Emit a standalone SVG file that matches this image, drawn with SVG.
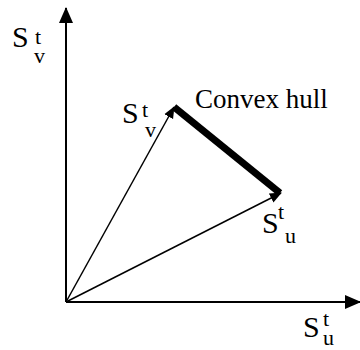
<svg xmlns="http://www.w3.org/2000/svg" width="360" height="350" viewBox="0 0 360 350" font-family="Liberation Serif, Times New Roman, serif">
<style>
.ax{stroke:#000;stroke-width:2;fill:none}
.vec{stroke:#000;stroke-width:1.5;fill:none}
</style>
<defs>
<marker id="ah" markerWidth="12" markerHeight="12" refX="11" refY="6" orient="auto" markerUnits="userSpaceOnUse">
<path d="M0,1 L12,6 L0,11 Z" fill="#000"/>
</marker>
<marker id="axh" markerWidth="16" markerHeight="14" refX="15" refY="7" orient="auto" markerUnits="userSpaceOnUse">
<path d="M0,0 L16,7 L0,14 Z" fill="#000"/>
</marker>
</defs>
<rect width="360" height="350" fill="#fff"/>
<g id="connectors">
<line class="ax" x1="66" y1="302" x2="66" y2="8" marker-end="url(#axh)"/>
<line class="ax" x1="66" y1="302" x2="360" y2="302" marker-end="url(#axh)"/>
<line class="vec" x1="66" y1="302" x2="174" y2="107" marker-end="url(#ah)"/>
<line class="vec" x1="66" y1="302" x2="281" y2="193" marker-end="url(#ah)"/>
<line x1="174" y1="107" x2="280" y2="193" stroke="#000" stroke-width="7"/>
</g>
<g id="label-axis-v">
<text font-size="30" x="12" y="47">S<tspan font-size="22" x="35" y="44">t</tspan><tspan font-size="22" x="34" y="63">v</tspan></text>
</g>
<g id="label-axis-u">
<text font-size="30" x="303" y="337">S<tspan font-size="22" x="323" y="326">t</tspan><tspan font-size="22" x="323" y="345">u</tspan></text>
</g>
<g id="label-v">
<text font-size="30" x="122" y="123">S<tspan font-size="22" x="142" y="117">t</tspan><tspan font-size="22" x="145" y="137">v</tspan></text>
</g>
<g id="label-u">
<text font-size="30" x="262" y="233">S<tspan font-size="22" x="278" y="219">t</tspan><tspan font-size="22" x="285" y="243">u</tspan></text>
</g>
<g id="label-hull">
<text font-size="27" x="195" y="108">Convex hull</text>
</g>
</svg>
